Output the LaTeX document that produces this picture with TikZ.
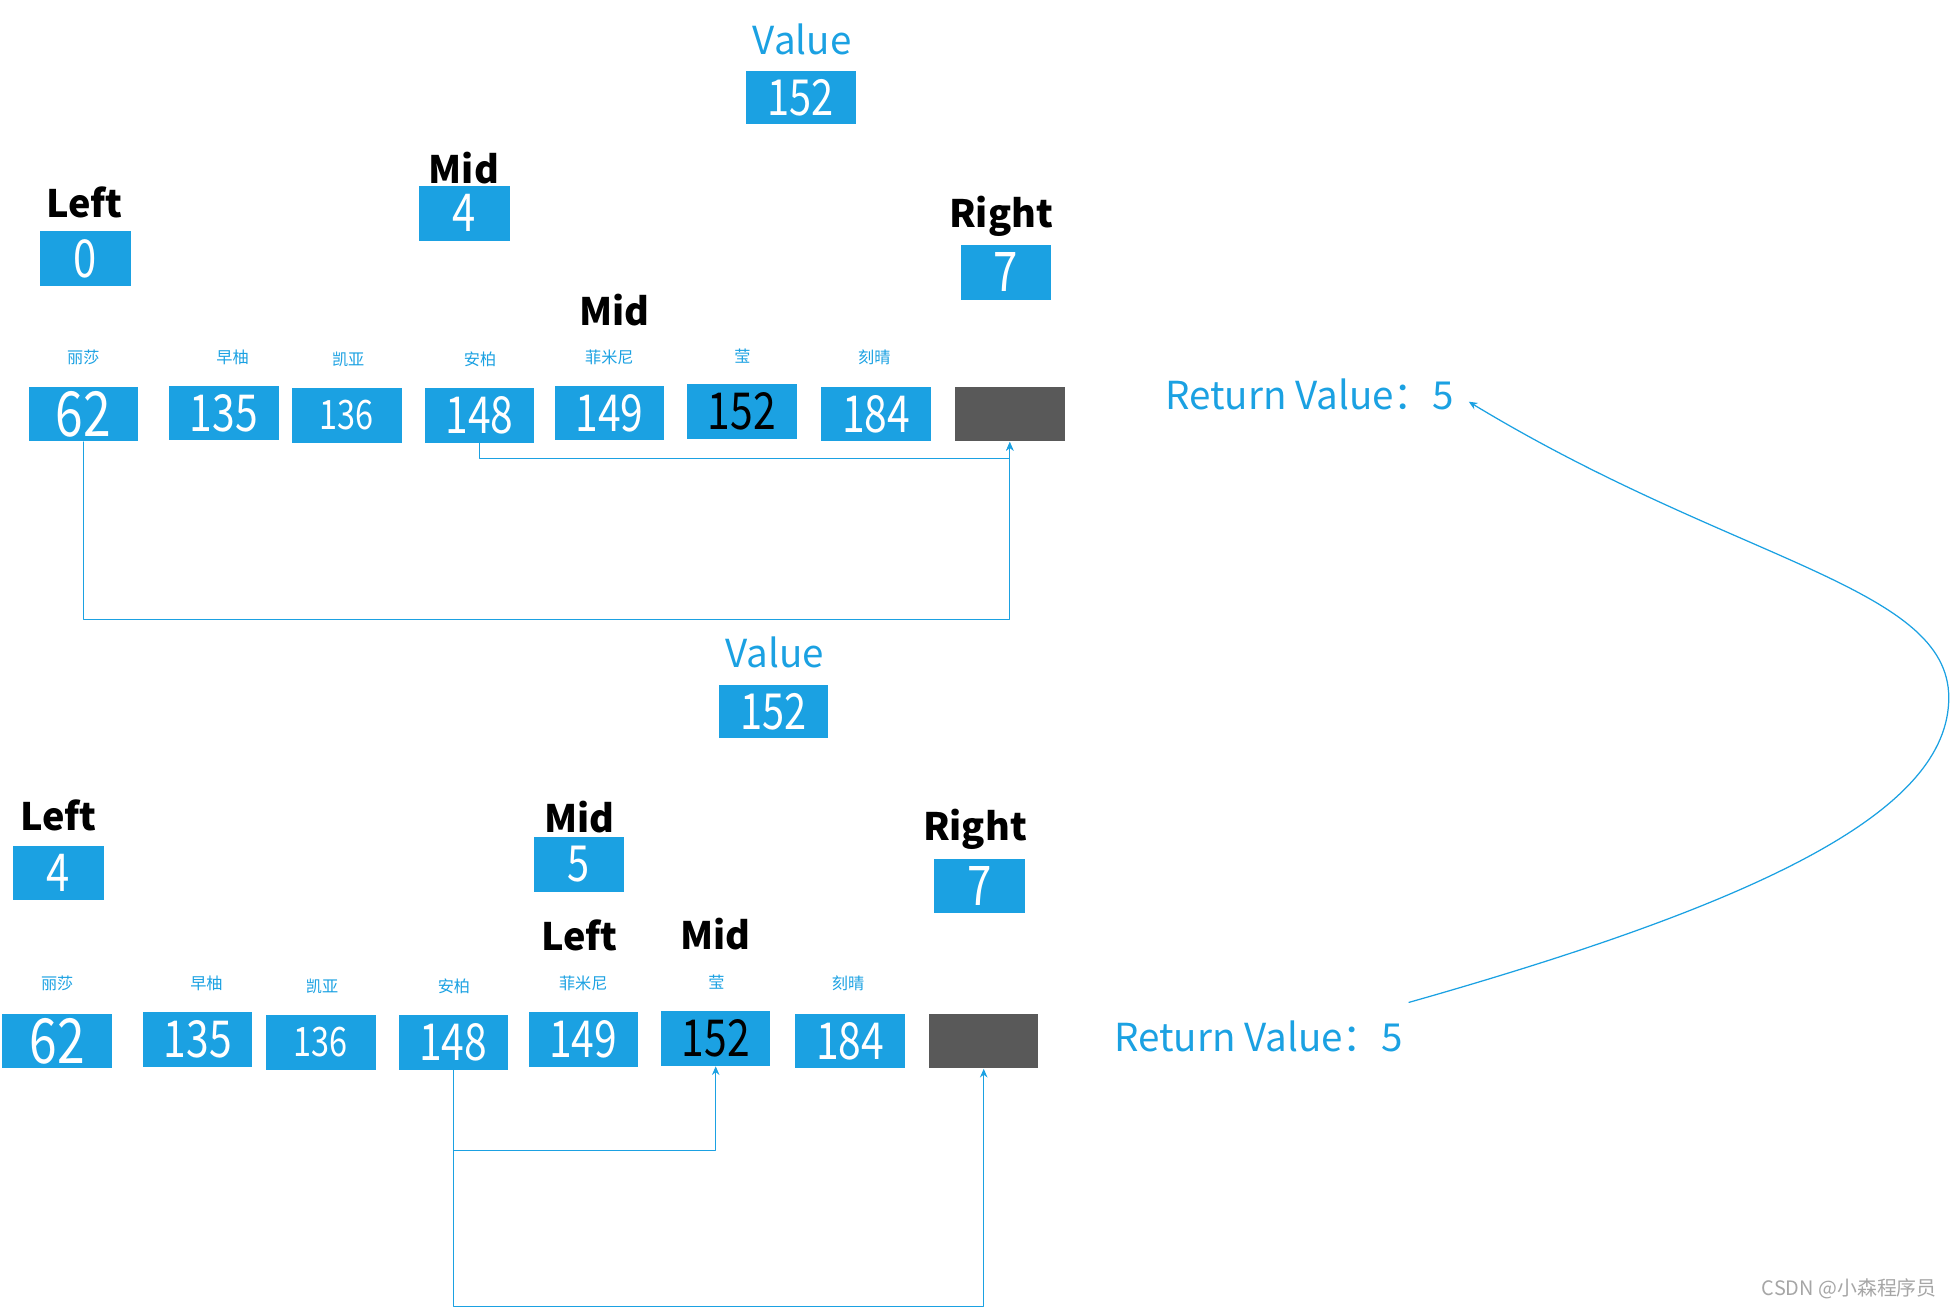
\documentclass[tikz,border=0pt]{standalone}
\usepackage{fontspec}
\setmainfont{Noto Sans CJK SC}
\newfontfamily\cjk{Noto Sans CJK SC}
\newfontfamily\digitfont[FakeStretch=0.8]{Noto Sans CJK SC}
\usetikzlibrary{arrows.meta}
\definecolor{boxblue}{HTML}{1BA1E2}
\definecolor{emptygray}{HTML}{595959}
\definecolor{markgray}{HTML}{A6A6A6}
\tikzset{
	cell/.style={fill=boxblue, text=white, minimum width=44pt, minimum height=22pt, inner sep=0pt},
	idx/.style={cell, minimum width=36.5pt, font=\digitfont\fontsize{21}{21}\selectfont},
	tag/.style={font=\bfseries\fontsize{15.2}{15.2}\selectfont},
	bluetxt/.style={text=boxblue, font=\fontsize{15.5}{15.5}\selectfont},
	hero/.style={text=boxblue, font=\cjk\fontsize{6.5}{6.5}\selectfont},
	link/.style={draw=boxblue, line width=0.5pt, ->}
}
\begin{document}
\begin{tikzpicture}[x=0.5pt, y=-0.5pt, line join=round, line cap=round, >={Stealth[length=3.5pt,width=3pt]}]
	\useasboundingbox (0,0) rectangle (1568,1052);
	% hai lượt tìm kiếm: a ở trên, b ở dưới
	\foreach \p/\dx/\dy in {a/0/0, b/-21/504}{
		\foreach \n/\x/\y [count=\i] in {丽莎/67/287, 早柚/187/287, 凯亚/280/289, 安柏/386/289, 菲米尼/490/287, 莹/597/286, 刻晴/703/287}
			\node[hero] (n\p\i) at ({\x+\dx},{\y+\dy}) {\n};
		\foreach \v/\x/\y/\s/\c [count=\i] in {62/67/333/25/white, 135/180/332/20.5/white, 136/279/334/16.3/white, 148/385.5/334/20.5/white, 149/490/332/20.5/white, 152/596.5/331/20.5/black, 184/704.5/333/20.5/white}
			\node[cell, text=\c, font=\digitfont\fontsize{\s}{\s}\selectfont] (\p\i) at ({\x+\dx},{\y+\dy}) {\v};
		\node[cell, fill=emptygray] (\p8) at ({812+\dx},{333+\dy}) {};
	}
	% lượt 1
	\node[bluetxt] (tvaltxt) at (645,32) {Value};
	\node[cell, minimum height=21.5pt, font=\digitfont\fontsize{20}{20}\selectfont] (tval) at (644,78.5) {152};
	\node[tag] (tmidtxt) at (373,135) {Mid};
	\node[idx] (tmid) at (373.5,171.5) {4};
	\node[tag] (tlefttxt) at (68,163) {Left};
	\node[idx] (tleft) at (68.5,208) {0};
	\node[tag] (trighttxt) at (805,174) {Right};
	\node[idx, font=\digitfont\fontsize{22}{22}\selectfont] (tright) at (809,219) {7};
	\node[tag] (tmidnew) at (494,249) {Mid};
	\node[bluetxt] (rv1) at (1053,317) {Return Value{\cjk ：}5};
	\draw[link] (a4.south) -- ++(0,12) -| (a8.south);
	\draw[link] (a1.south) -- ++(0,143) -| (a8.south);
	% lượt 2
	\node[bluetxt] (bvaltxt) at (623,525) {Value};
	\node[cell, minimum height=21.5pt, font=\digitfont\fontsize{20}{20}\selectfont] (bval) at (622,572) {152};
	\node[tag] (blefttxt) at (47,656) {Left};
	\node[idx] (bleft) at (47,702) {4};
	\node[tag] (bmidtxt) at (466,657) {Mid};
	\node[idx, font=\digitfont\fontsize{20}{20}\selectfont] (bmid) at (465.5,695) {5};
	\node[tag] (brighttxt) at (784,667) {Right};
	\node[idx, font=\digitfont\fontsize{22}{22}\selectfont] (bright) at (787.5,712.5) {7};
	\node[tag] (bleftnew) at (466,752) {Left};
	\node[tag] (bmidnew) at (575,751) {Mid};
	\node[bluetxt] (rv2) at (1012,833) {Return Value{\cjk ：}5};
	\draw[link] (b4.south) -- ++(0,65) -| (b6.south);
	\draw[link] (b4.south) -- ++(0,190) -| (b8.south);
	% giá trị trả về đi ngược lên
	\coordinate (rvstart) at (1133,806);
	\coordinate (rvtip) at (1181,323);
	\draw[link] (rvstart) .. controls (1422,724) and (1567,651) .. (1567,561)
		.. controls (1567,471) and (1394,452) .. (rvtip);
	\node[text=markgray, font=\cjk\fontsize{8}{8}\selectfont] (mark) at (1487,1036) {CSDN @小森程序员};
\end{tikzpicture}
\end{document}
